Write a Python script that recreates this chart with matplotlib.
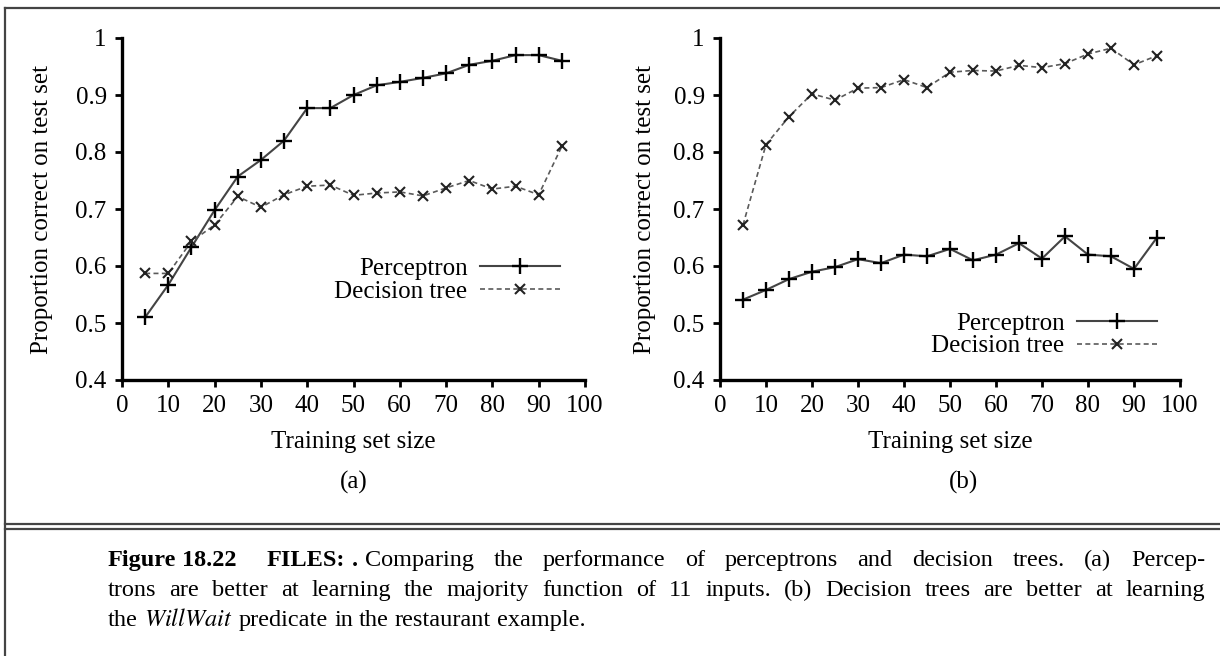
import matplotlib
matplotlib.use("Agg")
import matplotlib.pyplot as plt
from matplotlib.lines import Line2D

plt.rcParams["font.family"] = ["Liberation Serif", "DejaVu Serif"]
plt.rcParams["mathtext.fontset"] = "stix"

sizes = [5, 10, 15, 20, 25, 30, 35, 40, 45, 50, 55, 60, 65, 70, 75, 80, 85, 90, 95]

# (a) majority function of 11 inputs
perc_a = [0.510, 0.567, 0.633, 0.698, 0.757, 0.786, 0.820, 0.877, 0.877, 0.900,
          0.917, 0.923, 0.930, 0.938, 0.953, 0.960, 0.970, 0.970, 0.960]
tree_a = [0.587, 0.587, 0.643, 0.672, 0.722, 0.703, 0.725, 0.740, 0.742, 0.724,
          0.728, 0.730, 0.723, 0.737, 0.750, 0.735, 0.740, 0.725, 0.810]

# (b) WillWait restaurant problem
perc_b = [0.541, 0.558, 0.577, 0.590, 0.598, 0.612, 0.605, 0.620, 0.617, 0.630,
          0.610, 0.620, 0.640, 0.613, 0.652, 0.620, 0.617, 0.595, 0.650]
tree_b = [0.672, 0.813, 0.862, 0.902, 0.891, 0.912, 0.913, 0.927, 0.913, 0.940,
          0.943, 0.942, 0.952, 0.948, 0.955, 0.972, 0.982, 0.953, 0.969]

x_ticks = [0, 10, 20, 30, 40, 50, 60, 70, 80, 90, 100]
y_ticks = [0.4, 0.5, 0.6, 0.7, 0.8, 0.9, 1.0]
y_tick_labels = ["0.4", "0.5", "0.6", "0.7", "0.8", "0.9", "1"]

W, H = 1220, 656
fig = plt.figure(figsize=(W / 100, H / 100), dpi=100)
FS = 18


def px_box(x0, x1, y_top, y_bot):
    return [x0 / W, 1 - y_bot / H, (x1 - x0) / W, (y_bot - y_top) / H]


def panel(rect, perc, tree, tag, tag_x, leg_anchor, ylab_x):
    ax = fig.add_axes(rect)
    ax.plot(sizes, perc, color="#444444", lw=1.5, marker="+", ms=11, mew=1.7,
            mec="black", label="Perceptron")
    ax.plot(sizes, tree, color="#5a5a5a", lw=1.2, dashes=(3, 2), marker="x",
            ms=7.5, mew=1.5, mec="#222222", label="Decision tree")
    ax.set_xlim(0, 100)
    ax.set_ylim(0.4, 1.0)
    ax.set_xticks(x_ticks)
    ax.set_yticks(y_ticks)
    ax.set_yticklabels(y_tick_labels)
    for s in ["top", "right"]:
        ax.spines[s].set_visible(False)
    for s in ["left", "bottom"]:
        ax.spines[s].set_linewidth(2.4)
    ax.tick_params(direction="out", length=5, width=2, labelsize=FS, pad=6)
    ax.set_xlabel("Training set size", fontsize=FS)
    ax.xaxis.set_label_coords(0.5, -0.15)
    ax.xaxis.label.set_va("top")
    ax.set_ylabel("Proportion correct on test set", fontsize=FS)
    ax.yaxis.set_label_coords(ylab_x, 0.5)
    ax.text(tag_x, -0.30, tag, transform=ax.transAxes, ha="center",
            va="center", fontsize=FS)
    ax.legend(loc="center right", bbox_to_anchor=leg_anchor, frameon=False,
              markerfirst=False, fontsize=FS, handlelength=3.2,
              handletextpad=0.5, labelspacing=0.0, borderpad=0,
              borderaxespad=0, numpoints=1)
    for ln in ax.lines:
        ln.set_clip_on(False)
    return ax


panel(px_box(122, 585, 38, 380), perc_a, tree_a, "(a)", 0.5, (0.946, 0.292), -0.15)
panel(px_box(720, 1180, 38, 380), perc_b, tree_b, "(b)", 0.53, (0.95, 0.132), -0.14)

# frame around the figure and the double rule above the caption
frame = dict(color="#444444", lw=1.6, transform=fig.transFigure)
fig.add_artist(Line2D([5 / W, 5 / W], [0, 1 - 8 / H], **frame))
fig.add_artist(Line2D([5 / W, 1 + 2 / W], [1 - 8 / H, 1 - 8 / H], **frame))
fig.add_artist(Line2D([5 / W, 1 + 2 / W], [1 - 524 / H, 1 - 524 / H], **frame))
fig.add_artist(Line2D([5 / W, 1 + 2 / W], [1 - 529 / H, 1 - 529 / H], **frame))

# caption, set word by word so the first two lines are justified
renderer = fig.canvas.get_renderer()
CFS = 17.5
space = 0.25 * CFS * 100 / 72
cap_x0, cap_x1 = 108, 1205


def set_line(tokens, base_y, justify):
    # tokens: (text, weight, gap_before) where gap_before is None for a stretchable space
    items = []
    for text, weight, gap in tokens:
        t = fig.text(0, 1 - base_y / H, text, fontsize=CFS, fontweight=weight,
                     va="baseline", ha="left")
        w = t.get_window_extent(renderer).width
        items.append((t, w, gap))
    fixed = sum(g for _, _, g in items[1:] if g is not None)
    n_stretch = sum(1 for _, _, g in items[1:] if g is None)
    total = sum(w for _, w, _ in items)
    if justify and n_stretch:
        stretch = (cap_x1 - cap_x0 - total - fixed) / n_stretch
    else:
        stretch = space
    x = cap_x0
    for i, (t, w, gap) in enumerate(items):
        if i > 0:
            x += stretch if gap is None else gap
        t.set_x(x / W)
        x += w


line1 = [("Figure", "bold", 0), ("18.22", "bold", space), ("FILES:", "bold", 30),
         (".", "bold", space)]
line1 += [(w, "normal", None) for w in
          "Comparing the performance of perceptrons and decision trees. (a) Percep-".split()]
line2 = [(w, "normal", None) for w in
         "trons are better at learning the majority function of 11 inputs. (b) Decision trees are better at learning".split()]
line3 = [(w, "normal", None) for w in
         "the $WillWait$ predicate in the restaurant example.".split()]
line1[4] = (line1[4][0], "normal", space * 1.2)

set_line(line1, 566, True)
set_line(line2, 596, True)
set_line(line3, 626, False)

fig.savefig("out.png", dpi=100)
